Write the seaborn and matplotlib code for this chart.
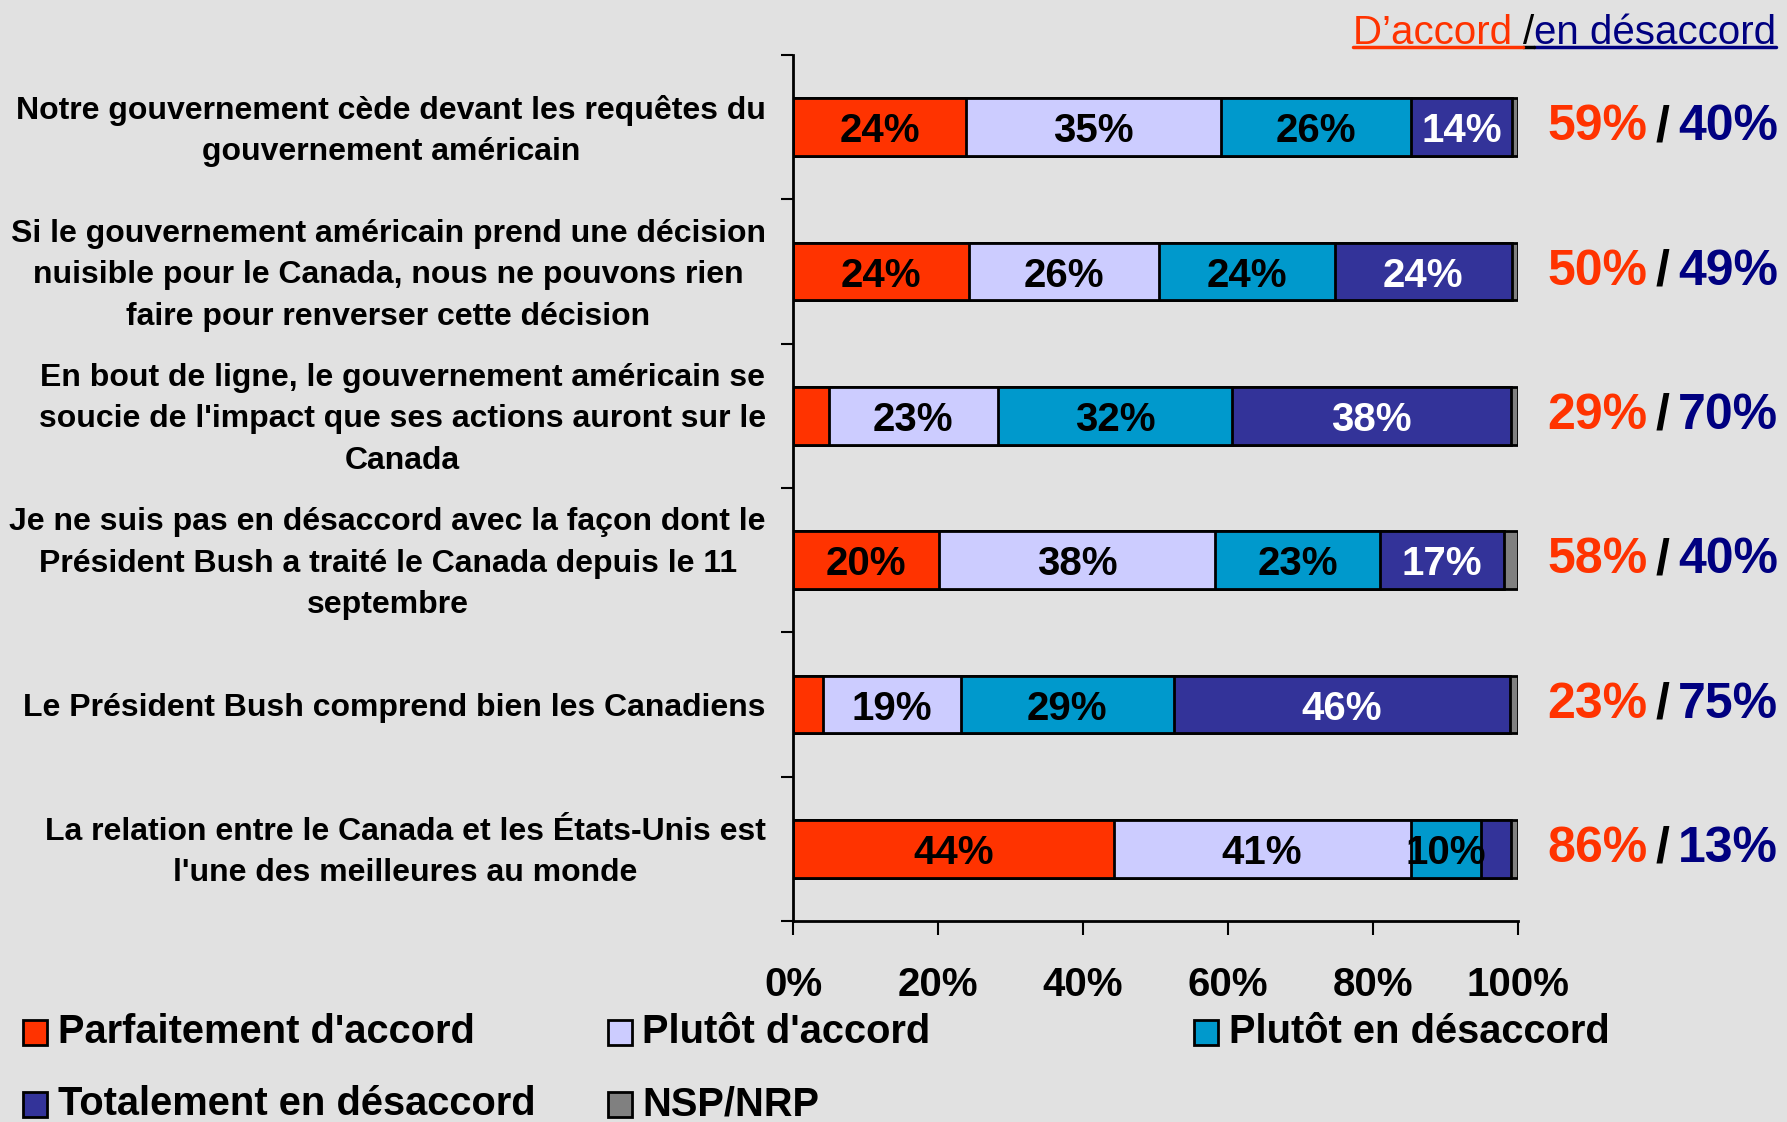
import numpy as np
import pandas as pd
import matplotlib
matplotlib.use("Agg")
import matplotlib.pyplot as plt
import matplotlib.transforms as mtransforms
from matplotlib.patches import Rectangle
from matplotlib.lines import Line2D
import seaborn as sns

sns.set_theme(style="white")
plt.rcParams["font.family"] = ["Liberation Sans", "DejaVu Sans"]
plt.rcParams["text.color"] = "black"

# ---- data ----
statements = [
    "Notre gouvernement cède devant les requêtes du\ngouvernement américain",
    "Si le gouvernement américain prend une décision\nnuisible pour le Canada, nous ne pouvons rien\nfaire pour renverser cette décision",
    "En bout de ligne, le gouvernement américain se\nsoucie de l'impact que ses actions auront sur le\nCanada",
    "Je ne suis pas en désaccord avec la façon dont le\nPrésident Bush a traité le Canada depuis le 11\nseptembre",
    "Le Président Bush comprend bien les Canadiens",
    "La relation entre le Canada et les États-Unis est\nl'une des meilleures au monde",
]
series_names = ["Parfaitement d'accord", "Plutôt d'accord", "Plutôt en désaccord",
                "Totalement en désaccord", "NSP/NRP"]
parfaitement = [23.9, 24.2, 4.9, 20.1, 4.1, 44.2]
plutot_accord = [35.1, 26.3, 23.4, 38.1, 19.0, 41.0]
plutot_desaccord = [26.3, 24.2, 32.2, 22.8, 29.4, 9.7]
totalement = [13.8, 24.4, 38.5, 17.1, 46.4, 4.1]
nsp = [0.9, 0.9, 1.0, 1.9, 1.1, 1.0]
total_accord = ["59%", "50%", "29%", "58%", "23%", "86%"]
total_desaccord = ["40%", "49%", "70%", "40%", "75%", "13%"]
x_ticks = [0, 20, 40, 60, 80, 100]

colors = ["#FF3300", "#CCCCFF", "#0099CC", "#333399", "#808080"]
text_colors = ["black", "black", "black", "white", "black"]
red_txt = "#FF3300"
navy_txt = "#000080"

df = pd.DataFrame({"statement": statements})
series = [parfaitement, plutot_accord, plutot_desaccord, totalement, nsp]
vals = np.array(series).T
cum = np.cumsum(vals, axis=1)
for k in range(5):
    df[f"cum{k}"] = cum[:, k]

fig = plt.figure(figsize=(17.87, 11.22), dpi=100)
fig.patch.set_facecolor("#e1e1e1")
ax = fig.add_axes([0.4438, 0.179, 0.8495 - 0.4438, 0.951 - 0.179])
ax.set_facecolor("none")

# stacked bars: draw cumulative totals from the largest to the smallest
for k in range(4, -1, -1):
    sns.barplot(data=df, x=f"cum{k}", y="statement", color=colors[k], orient="h",
                width=0.4, edgecolor="black", linewidth=2, errorbar=None,
                saturation=1, ax=ax)

# segment labels
for i in range(len(statements)):
    left = 0
    for k in range(5):
        v = vals[i, k]
        if v >= 8:
            ax.text(left + v / 2, i, f"{round(v)}%", ha="center", va="center_baseline",
                    fontsize=29, fontweight="bold", color=text_colors[k])
        left += v

ax.set_xlim(0, 100)
ax.set_ylim(5.5, -0.5)
ax.set_xticks(x_ticks)
ax.set_xticklabels([f"{t}%" for t in x_ticks], fontsize=29, fontweight="bold", color="black")
ax.set_yticks(np.arange(-0.5, 6, 1))
ax.set_yticklabels([])
ax.set_xlabel("")
ax.set_ylabel("")
ax.tick_params(axis="x", direction="out", length=10, width=1.5, pad=22, bottom=True, colors="black")
ax.tick_params(axis="y", direction="out", length=9, width=1.5, left=True, colors="black")
for s in ["top", "right"]:
    ax.spines[s].set_visible(False)
for s in ["left", "bottom"]:
    ax.spines[s].set_color("black")
    ax.spines[s].set_linewidth(2)

# statement labels on the left
lab_tr = mtransforms.blended_transform_factory(fig.transFigure, ax.transData)
for i, s in enumerate(statements):
    ax.text(0.4286, i + 0.025, s, transform=lab_tr, ha="right", va="center",
            multialignment="center", fontsize=23, fontweight="bold", color="black",
            linespacing=1.5, clip_on=False)

# agree / disagree totals on the right
for i in range(len(statements)):
    ax.text(0.8657, i, total_accord[i], transform=lab_tr, ha="left", va="center",
            fontsize=36, fontweight="bold", color=red_txt, clip_on=False)
    ax.text(0.9305, i, "/", transform=lab_tr, ha="center", va="center",
            fontsize=36, fontweight="bold", color="black", clip_on=False)
    ax.text(0.995, i, total_desaccord[i], transform=lab_tr, ha="right", va="center",
            fontsize=36, fontweight="bold", color=navy_txt, clip_on=False)

# header with underline
renderer = fig.canvas.get_renderer()
W, H = fig.bbox.width, fig.bbox.height
hy = 0.971
parts = [("en désaccord", navy_txt), ("/", "black"), ("D’accord ", red_txt)]
x_right = 0.994
for txt, col in parts:
    t = fig.text(x_right, hy, txt, ha="right", va="center", fontsize=29, color=col)
    bb = t.get_window_extent(renderer)
    yline = (bb.y0 + 5) / H
    fig.add_artist(Line2D([bb.x0 / W, bb.x1 / W], [yline, yline], color=col,
                          linewidth=2.5, transform=fig.transFigure))
    x_right = bb.x0 / W

# legend drawn by hand to match the column placement
leg_pos = [(0.0128, 0.0800), (0.340, 0.0800), (0.668, 0.0800), (0.0128, 0.0158), (0.340, 0.0158)]
for k, (lx, ly) in enumerate(leg_pos):
    fig.add_artist(Rectangle((lx, ly - 0.0111), 0.0135, 0.0222, facecolor=colors[k],
                             edgecolor="black", linewidth=2, transform=fig.transFigure))
    fig.text(lx + 0.0195, ly, series_names[k], ha="left", va="center",
             fontsize=28.7, fontweight="bold", color="black")

fig.savefig("out.png", dpi=100, facecolor=fig.get_facecolor())
print("saved")
